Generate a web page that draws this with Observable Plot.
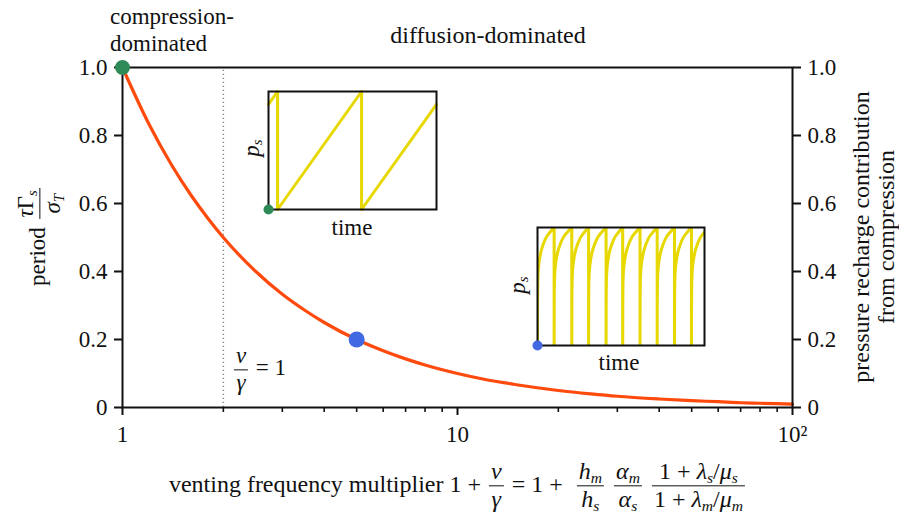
<!DOCTYPE html>
<html>
<head>
<meta charset="utf-8">
<script src="https://cdn.jsdelivr.net/npm/d3@7"></script>
<script src="https://cdn.jsdelivr.net/npm/@observablehq/plot@0.6"></script>
</head>
<body style="margin:0">
<div id="out"></div>
<script>
// ---- main curve: period vs venting frequency multiplier
const multiplier = [1, 1.2, 1.4, 1.6, 1.8, 2, 2.5, 3, 3.5, 4, 5, 6, 7, 8, 10, 12, 15, 20, 25, 30, 40, 50, 60, 70, 80, 100];
const period = [1.0, 0.833, 0.714, 0.625, 0.556, 0.5, 0.4, 0.333, 0.286, 0.25, 0.2, 0.167, 0.143, 0.125, 0.1, 0.083, 0.067, 0.05, 0.04, 0.033, 0.025, 0.02, 0.017, 0.014, 0.0125, 0.01];

// highlighted points
const compressionPoint = [{x: 1, y: 1}];
const diffusionPoint = [{x: 5, y: 0.2}];
const ventingThreshold = [2];

// ticks
const yTicks = [0, 0.2, 0.4, 0.6, 0.8, 1.0];
const yTickLabels = ["0", "0.2", "0.4", "0.6", "0.8", "1.0"];
const xMajorTicks = [1, 10, 100];
const xMajorLabels = ["1", "10", "10²"];
const xMinorTicks = [2, 3, 4, 5, 6, 7, 8, 9, 20, 30, 40, 50, 60, 70, 80, 90];

// inset 1 (compression-dominated): sawtooth
const inset1Time = [0, 0.054, 0.054, 0.554, 0.554, 1.0];
const inset1P = [0.89, 1.0, 0.0, 1.0, 0.0, 0.89];

// inset 2 (diffusion-dominated): recharge shape within one cycle and vent times
const rechargeFrac = [0, 0.005, 0.02, 0.05, 0.1, 0.2, 0.35, 0.5, 0.75, 0.9, 1.0];
const rechargeP = [0, 0.35, 0.55, 0.64, 0.71, 0.79, 0.86, 0.91, 0.96, 0.985, 1.0];
const ventTimes = [0, 0.97, 2.0, 2.98, 4.0, 4.97, 5.98, 6.98, 7.99, 8.98, 9.98];
const inset2End = 9.74;

const FONT = "'Liberation Serif'";
const out = document.getElementById("out");
Object.assign(out.style, {position: "relative", width: "899px", height: "517px", overflow: "hidden", background: "white"});

const curveData = multiplier.map((x, i) => ({x, y: period[i]}));
const yFmt = d => yTickLabels[yTicks.findIndex(t => Math.abs(t - d) < 1e-9)];
const xFmt = d => xMajorLabels[xMajorTicks.indexOf(d)];

const main = Plot.plot({
  width: 899, height: 517,
  marginLeft: 122, marginRight: 107, marginTop: 67, marginBottom: 110,
  style: {fontFamily: FONT, fontSize: "23px", color: "#111", background: "transparent", overflow: "visible", position: "absolute", left: "0px", top: "0px"},
  x: {type: "log", domain: [1, 100], axis: null},
  y: {domain: [0, 1], axis: null},
  marks: [
    Plot.ruleX(ventingThreshold, {y1: 0, y2: 1, stroke: "#888", strokeWidth: 1.5, strokeDasharray: "1.2,2.8"}),
    Plot.line(curveData, {x: "x", y: "y", stroke: "#ff4a0d", strokeWidth: 3.2, curve: "monotone-x"}),
    Plot.frame({stroke: "#111", strokeWidth: 2}),
    Plot.axisX({ticks: xMajorTicks, tickSize: 8, tickPadding: 10, tickFormat: xFmt, strokeWidth: 2, fontSize: 23, label: null}),
    Plot.axisX({ticks: xMinorTicks, tickSize: 5, tickFormat: () => "", strokeWidth: 1.6, label: null}),
    Plot.axisY({anchor: "left", ticks: yTicks, tickSize: 8, tickPadding: 7, tickFormat: yFmt, strokeWidth: 2, fontSize: 23, label: null}),
    Plot.axisY({anchor: "right", ticks: yTicks, tickSize: 8, tickPadding: 7, tickFormat: yFmt, strokeWidth: 2, fontSize: 23, label: null}),
    Plot.dot(compressionPoint, {x: "x", y: "y", r: 7.5, fill: "#2e8b57", stroke: "none"}),
    Plot.dot(diffusionPoint, {x: "x", y: "y", r: 8, fill: "#4169e1", stroke: "none"})
  ]
});
out.appendChild(main);

// inset 1
const inset1Data = inset1Time.map((t, i) => ({t, p: inset1P[i]}));
const in1 = Plot.plot({
  width: 174, height: 124, margin: 3,
  style: {background: "transparent", overflow: "visible", position: "absolute", left: "265px", top: "88px"},
  x: {domain: [0, 1], axis: null},
  y: {domain: [0, 1], axis: null},
  marks: [
    Plot.line(inset1Data, {x: "t", y: "p", stroke: "#e6d800", strokeWidth: 3}),
    Plot.frame({stroke: "#111", strokeWidth: 2}),
    Plot.dot([{t: 0, p: 0}], {x: "t", y: "p", r: 5, fill: "#2e8b57"})
  ]
});
out.appendChild(in1);

// inset 2
const inset2Data = [];
for (let k = 0; k < ventTimes.length - 1; k++) {
  const t0 = ventTimes[k], t1 = ventTimes[k + 1];
  rechargeFrac.forEach((f, j) => inset2Data.push({t: t0 + f * (t1 - t0), p: rechargeP[j]}));
}
const in2 = Plot.plot({
  width: 173, height: 124, margin: 3,
  style: {background: "transparent", overflow: "visible", position: "absolute", left: "534px", top: "224px"},
  x: {domain: [0, inset2End], axis: null},
  y: {domain: [0, 1], axis: null},
  marks: [
    Plot.line(inset2Data, {x: "t", y: "p", stroke: "#e6d800", strokeWidth: 3, curve: "monotone-x", clip: true}),
    Plot.frame({stroke: "#111", strokeWidth: 2}),
    Plot.dot([{t: 0, p: 0}], {x: "t", y: "p", r: 5, fill: "#4169e1"})
  ]
});
out.appendChild(in2);

// text labels (inline styles only)
const SUB = "font-size:0.65em;vertical-align:-0.25em;line-height:0;font-style:italic";
const I = s => `<span style="font-style:italic">${s}</span>`;
const S = s => `<span style="${SUB}">${s}</span>`;
const frac = (a, b) => `<span style="display:inline-flex;flex-direction:column;vertical-align:middle;text-align:center;line-height:1.05;margin:0 2px"><span style="border-bottom:1.3px solid #111;padding:0 2px 1px 2px">${a}</span><span style="padding:1px 2px 0 2px">${b}</span></span>`;

function place(html, cx, cy, opts = {}) {
  const d = document.createElement("div");
  d.innerHTML = html;
  d.style.position = "absolute";
  d.style.whiteSpace = "nowrap";
  d.style.lineHeight = opts.lh || "1";
  d.style.color = "#111";
  d.style.fontFamily = FONT;
  d.style.fontSize = (opts.size || 23) + "px";
  d.style.left = cx + "px";
  d.style.top = cy + "px";
  if (opts.align) d.style.textAlign = opts.align;
  const tx = opts.anchor === "left" ? "0" : "-50%";
  d.style.transform = `translate(${tx},-50%)` + (opts.rot ? ` rotate(${opts.rot}deg)` : "");
  out.appendChild(d);
  return d;
}

place("compression-<br>dominated", 110, 30, {anchor: "left", lh: "27px", align: "left"});
place("diffusion-dominated", 488, 35, {size: 24});
place(`period ${frac(I("τ") + "Γ" + S("s"), I("σ") + S("T"))}`, 40, 236, {rot: -90});
place("pressure recharge contribution<br>from compression", 874, 237, {rot: -90, size: 24, lh: "25px", align: "center"});
place(`${frac(I("ν"), I("γ"))} = 1`, 259, 370);
place(I("p") + S("s"), 251, 148, {rot: -90});
place("time", 352, 227);
place(I("p") + S("s"), 517, 285, {rot: -90});
place("time", 619, 362);
place(`venting frequency multiplier 1 + ${frac(I("ν"), I("γ"))} = 1 + &nbsp;${frac(I("h") + S("m"), I("h") + S("s"))} ${frac(I("α") + S("m"), I("α") + S("s"))} ${frac("1 + " + I("λ") + S("s") + "/" + I("μ") + S("s"), "1 + " + I("λ") + S("m") + "/" + I("μ") + S("m"))}`, 458, 486, {size: 24});
</script>
</body>
</html>
